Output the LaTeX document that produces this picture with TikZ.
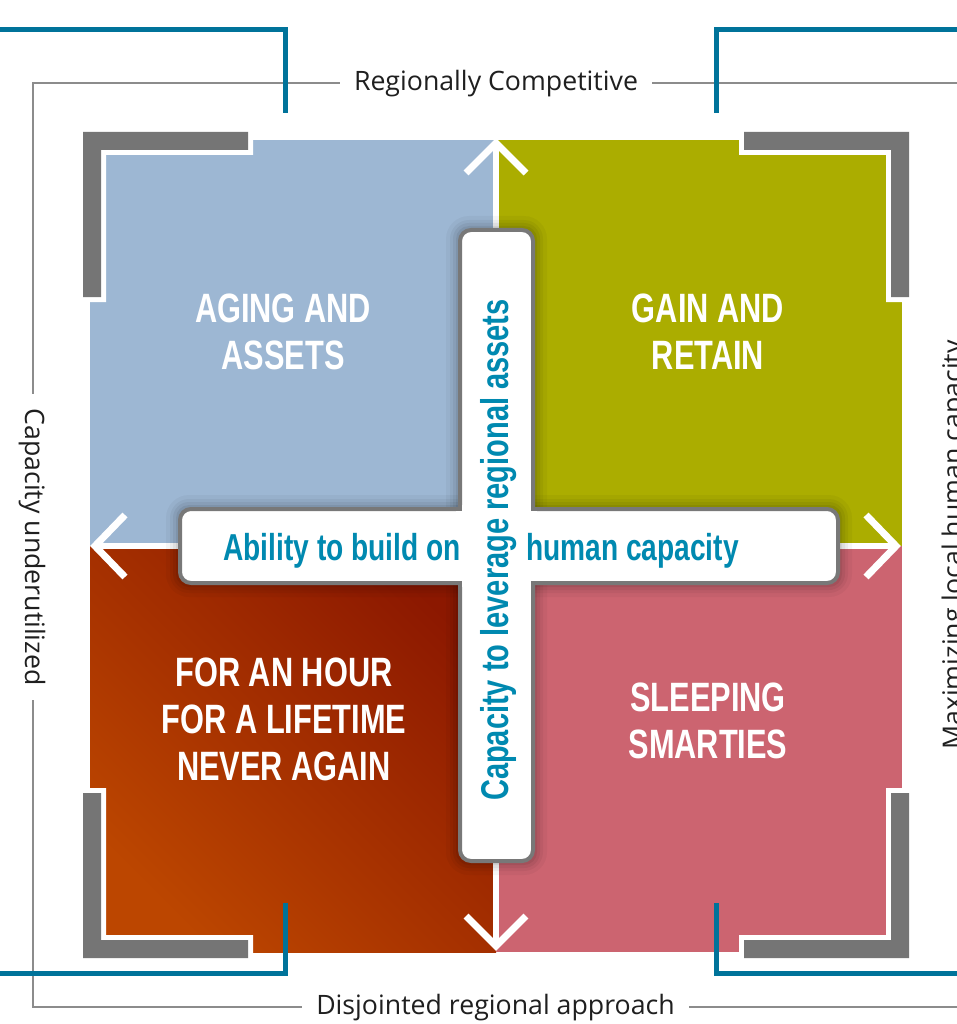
\documentclass[tikz,border=0pt]{standalone}
\usepackage{fontspec}
\setmainfont{Open Sans}
\newfontfamily\condfont[FakeStretch=0.75]{Liberation Sans}
\usetikzlibrary{calc}
\definecolor{qblue}{RGB}{157,183,211}
\definecolor{qgreen}{RGB}{171,173,0}
\definecolor{qpink}{RGB}{204,100,112}
\definecolor{qorangeA}{RGB}{188,70,0}
\definecolor{qorangeB}{RGB}{140,24,0}
\definecolor{lgray}{RGB}{117,117,117}
\definecolor{tealline}{RGB}{0,115,154}
\definecolor{tealtext}{RGB}{0,137,176}
\definecolor{framegray}{RGB}{140,140,140}
\definecolor{crossgray}{RGB}{120,120,120}
\tikzset{
  framebox/.style={draw=framegray, line width=1.5pt},
  edgelabel/.style={fill=white, inner xsep=14pt, inner ysep=2pt, text=black!88,
    font=\fontsize{26.7}{32}\selectfont},
  halo/.style={fill=white},
  cornerL/.style={fill=lgray},
  tealL/.style={draw=tealline, line width=5pt, miter limit=10},
  divider/.style={draw=white, line width=6pt},
  chevron/.style={draw=white, line width=7pt, line join=miter},
  crossbox/.style={fill=white, draw=crossgray, line width=4pt, rounded corners=11pt},
  crossshadow/.style={fill=black},
  quadtext/.style={text=white, align=center, inner sep=0pt,
    font=\condfont\bfseries\fontsize{41}{47}\selectfont},
  crosstext/.style={text=tealtext, inner sep=0pt,
    font=\condfont\bfseries\fontsize{37.5}{40}\selectfont},
}
\begin{document}
\begin{tikzpicture}[x=1pt,y=-1pt]
\useasboundingbox (0,0) rectangle (957,1024);
\clip (0,0) rectangle (957,1024);

% outer thin frame with its four labels
\draw[framebox] (33,83) rectangle (959,1007);
\node[edgelabel] (lblTop) at (496,84) {Regionally Competitive};
\node[edgelabel] (lblBottom) at (495.5,1008) {Disjointed regional approach};
\node[edgelabel, rotate=-90] (lblLeft) at (32,547) {Capacity underutilized};
\node[edgelabel, rotate=90] (lblRight) at (955,545) {Maximizing local human capacity};

% quadrants
\fill[qblue] (90,140) rectangle (496,546);
\fill[qgreen] (496,140) rectangle (902,546);
\shade[left color=qorangeB, right color=qorangeA, shading angle=-45] (90,546) rectangle (496,952);
\fill[qpink] (496,546) rectangle (902,952);

% grey corner brackets with white halos
\fill[halo] (78,127) -- (253,127) -- (253,155) -- (106,155) -- (106,302) -- (78,302) -- cycle;
\fill[cornerL] (83,132) -- (248,132) -- (248,150) -- (101,150) -- (101,297) -- (83,297) -- cycle;
\fill[halo] (914,127) -- (739,127) -- (739,155) -- (886,155) -- (886,302) -- (914,302) -- cycle;
\fill[cornerL] (909,132) -- (744,132) -- (744,150) -- (891,150) -- (891,297) -- (909,297) -- cycle;
\fill[halo] (78,963) -- (253,963) -- (253,935) -- (106,935) -- (106,788) -- (78,788) -- cycle;
\fill[cornerL] (83,958) -- (248,958) -- (248,940) -- (101,940) -- (101,793) -- (83,793) -- cycle;
\fill[halo] (914,963) -- (739,963) -- (739,935) -- (886,935) -- (886,788) -- (914,788) -- cycle;
\fill[cornerL] (909,958) -- (744,958) -- (744,940) -- (891,940) -- (891,793) -- (909,793) -- cycle;

% teal corner lines
\draw[tealL] (0,30) -- (285,30) -- (285,113);
\draw[tealL] (716,113) -- (716,30) -- (960,30);
\draw[tealL] (0,973) -- (285,973) -- (285,903);
\draw[tealL] (716,903) -- (716,973) -- (960,973);

% dividers with open arrowheads
\coordinate (ctr) at (496,546);
\coordinate (aN) at (496,143);
\coordinate (aS) at (496,946);
\coordinate (aW) at (95,546);
\coordinate (aE) at (896,546);
\draw[divider] (ctr) -- (aN);
\draw[divider] (ctr) -- (aS);
\draw[divider] (ctr) -- (aW);
\draw[divider] (ctr) -- (aE);
\draw[chevron] ($(aN)+(-30,30)$) -- (aN) -- ($(aN)+(30,30)$);
\draw[chevron] ($(aS)+(-30,-30)$) -- (aS) -- ($(aS)+(30,-30)$);
\draw[chevron] ($(aW)+(30,-31)$) -- (aW) -- ($(aW)+(30,31)$);
\draw[chevron] ($(aE)+(-30,-31)$) -- (aE) -- ($(aE)+(-30,31)$);

% quadrant titles
\node[quadtext] (qAging) at (283,331.5) {AGING AND\\ASSETS};
\node[quadtext] (qGain) at (708,331.5) {GAIN AND\\RETAIN};
\node[quadtext] (qHour) at (284,719.5) {FOR AN HOUR\\FOR A LIFETIME\\NEVER AGAIN};
\node[quadtext] (qSleep) at (708,720.5) {SLEEPING\\SMARTIES};

% soft shadow of the cross
\foreach \d/\o in {12/0.035,8/0.045,5/0.055,2/0.065} {
  \fill[crossshadow, opacity=\o, rounded corners=11pt+\d pt] (458-\d,228-\d) rectangle (535+\d,863+\d);
  \fill[crossshadow, opacity=\o, rounded corners=11pt+\d pt] (178-\d,507-\d) rectangle (840+\d,585+\d);
}
% the cross
\draw[crossbox] (460,230) rectangle (533,861);
\draw[crossbox] (180,509) rectangle (838,583);
\fill[white] (462,505) rectangle (531,587);
\fill[white] (456,511) rectangle (537,581);

\node[crosstext, anchor=base east] (ability) at (461,560) {Ability to build on};
\node[crosstext, anchor=base west] (human) at (526,560) {human capacity};
\node[crosstext, rotate=90, anchor=base, font=\condfont\bfseries\fontsize{38.7}{41}\selectfont] (leverage) at (508,550) {Capacity to leverage regional assets};
\end{tikzpicture}
\end{document}
